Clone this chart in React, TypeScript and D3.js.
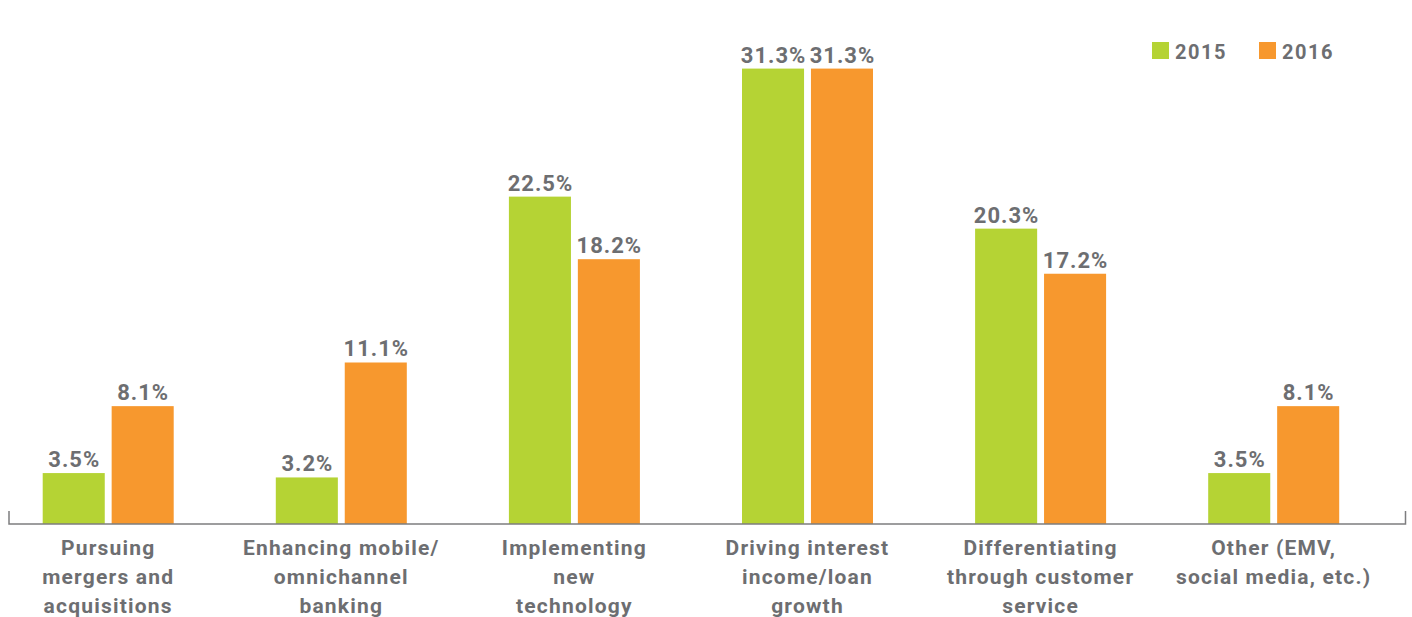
import React from "react";
import * as d3 from "d3";

const categories = [
  "Pursuing mergers and acquisitions",
  "Enhancing mobile/omnichannel banking",
  "Implementing new technology",
  "Driving interest income/loan growth",
  "Differentiating through customer service",
  "Other (EMV, social media, etc.)",
];
const categoryLines = [
  ["Pursuing", "mergers and", "acquisitions"],
  ["Enhancing mobile/", "omnichannel", "banking"],
  ["Implementing", "new", "technology"],
  ["Driving interest", "income/loan", "growth"],
  ["Differentiating", "through customer", "service"],
  ["Other (EMV,", "social media, etc.)"],
];
const seriesNames = ["2015", "2016"];
const values2015 = [3.5, 3.2, 22.5, 31.3, 20.3, 3.5];
const values2016 = [8.1, 11.1, 18.2, 31.3, 17.2, 8.1];
const colors = ["#b5d334", "#f7982e"];

const W = 1412;
const H = 617;
const TEXT = "#6d6e71";
const FONT = "Roboto, 'DejaVu Sans', sans-serif";

export default function App() {
  const baseY = 524;
  const x0 = d3.scaleBand<string>().domain(categories).range([-8.35, 1390.25]).padding(0);
  const groupHalf = 65.5;
  const y = d3.scaleLinear().domain([0, 35]).range([baseY, baseY - 35 * 14.55]);
  const seriesVals = [values2015, values2016];

  return (
    <svg width={W} height={H} style={{ position: "absolute", left: 0, top: 0, background: "#fff" }} fontFamily={FONT}>
      {categories.map((c, i) => {
        const cx = (x0(c) as number) + x0.bandwidth() / 2;
        const x1 = d3.scaleBand<string>().domain(seriesNames).range([cx - groupHalf, cx + groupHalf]).paddingInner(0.1);
        return (
          <g key={c}>
            {seriesNames.map((s, si) => {
              const v = seriesVals[si][i];
              const bx = x1(s) as number;
              const bw = x1.bandwidth();
              return (
                <g key={s}>
                  <rect x={bx} y={y(v)} width={bw} height={baseY - y(v)} fill={colors[si]} />
                  <text
                    x={bx + bw / 2 + 0.5}
                    y={y(v) - 6}
                    textAnchor="middle"
                    fontSize={22}
                    fontWeight={700}
                    fill={TEXT}
                    letterSpacing={1}
                  >
                    {v.toFixed(1)}%
                  </text>
                </g>
              );
            })}
            {categoryLines[i].map((ln, li) => (
              <text
                key={li}
                x={cx}
                y={555 + li * 29}
                textAnchor="middle"
                fontSize={21}
                fontWeight={700}
                fill={TEXT}
                letterSpacing={1.2}
              >
                {ln}
              </text>
            ))}
          </g>
        );
      })}
      <path d={`M9,511V${baseY}H1405.5V511`} fill="none" stroke="#7d7d7f" strokeWidth={1.5} />
      {seriesNames.map((s, si) => (
        <g key={s} transform={`translate(${1152 + si * 107},42)`}>
          <rect x={0} y={0} width={17} height={17} fill={colors[si]} />
          <text x={23} y={16.5} fontSize={20} fontWeight={700} fill={TEXT} letterSpacing={1.5}>
            {s}
          </text>
        </g>
      ))}
    </svg>
  );
}
